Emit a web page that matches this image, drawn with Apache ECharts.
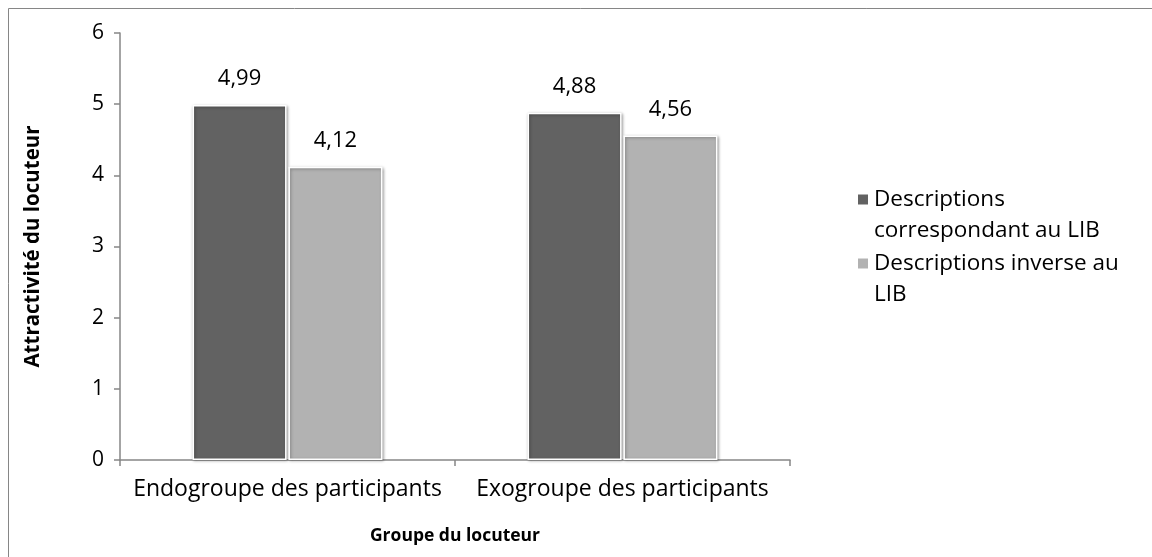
<!DOCTYPE html>
<html>
<head>
<meta charset="utf-8">
<script src="https://cdn.jsdelivr.net/npm/echarts@6/dist/echarts.min.js"></script>
<style>
  html, body { margin: 0; padding: 0; background: #fff; }
  #chart { width: 1152px; height: 557px; }
</style>
</head>
<body>
<div id="chart"></div>
<script>
// categories and values
const categories = ["Endogroupe des participants", "Exogroupe des participants"];
const seriesNames = ["Descriptions correspondant au LIB", "Descriptions inverse au LIB"];
const legendLines = {
  "Descriptions correspondant au LIB": ["Descriptions", "correspondant au LIB"],
  "Descriptions inverse au LIB": ["Descriptions inverse au", "LIB"],
};
const corresp = [4.99, 4.88];
const inverse = [4.12, 4.56];
const yTicks = [0, 1, 2, 3, 4, 5, 6];

const font = "'Open Sans', sans-serif";
const axisGray = "#868686";

const chart = echarts.init(document.getElementById("chart"));

// style de barre commun
function barSeries(name, data, color) {
  return {
    name: name,
    type: "bar",
    data: data,
    barWidth: 94,
    barGap: "2%",
    itemStyle: {
      color: color,
      borderColor: "#ffffff",
      borderWidth: 1.5,
      shadowBlur: 3,
      shadowColor: "rgba(0,0,0,0.35)",
      shadowOffsetX: 1,
      shadowOffsetY: 1,
    },
    label: {
      show: true,
      position: "top",
      distance: 15,
      color: "#000",
      fontFamily: font,
      fontSize: 22,
      formatter: (p) => p.value.toFixed(2).replace(".", ","),
    },
  };
}

const option = {
  animation: false,
  backgroundColor: "#fff",
  textStyle: { fontFamily: font },
  graphic: [
    {
      type: "rect",
      shape: { x: 8.5, y: 8.5, width: 1300, height: 700 },
      style: { fill: "none", stroke: axisGray, lineWidth: 1 },
      silent: true,
    },
  ],
  grid: { left: 120, right: 362, top: 33, bottom: 97 },
  legend: {
    orient: "vertical",
    left: 851,
    top: 148,
    itemWidth: 12,
    itemHeight: 12,
    itemGap: -29,
    icon: "rect",
    data: seriesNames,
    textStyle: { fontFamily: font, fontSize: 22.5, color: "#000", lineHeight: 31 },
    // ligne vide en tête : le carré s'aligne sur la 1re ligne du texte
    formatter: (name) => "\n" + legendLines[name].join("\n"),
  },
  xAxis: {
    type: "category",
    data: categories,
    name: "Groupe du locuteur",
    nameLocation: "middle",
    nameGap: 67,
    nameTextStyle: { fontFamily: font, fontSize: 17.5, fontWeight: "bold", color: "#000" },
    axisLine: { lineStyle: { color: axisGray, width: 1.5 } },
    axisTick: { show: true, length: 6, lineStyle: { color: axisGray, width: 1.5 } },
    axisLabel: { color: "#000", fontFamily: font, fontSize: 23, margin: 18, interval: 0 },
  },
  yAxis: {
    type: "value",
    min: yTicks[0],
    max: yTicks[yTicks.length - 1],
    interval: 1,
    name: "Attractivité du locuteur",
    nameLocation: "middle",
    nameGap: 76,
    nameTextStyle: { fontFamily: font, fontSize: 20.5, fontWeight: "bold", color: "#000" },
    axisLine: { show: true, lineStyle: { color: axisGray, width: 1.5 } },
    axisTick: { show: true, length: 6, lineStyle: { color: axisGray, width: 1.5 } },
    splitLine: { show: false },
    axisLabel: { color: "#000", fontFamily: font, fontSize: 21, margin: 16 },
  },
  series: [
    barSeries(seriesNames[0], corresp, "#626262"),
    barSeries(seriesNames[1], inverse, "#b2b2b2"),
  ],
};

chart.setOption(option);
</script>
</body>
</html>
